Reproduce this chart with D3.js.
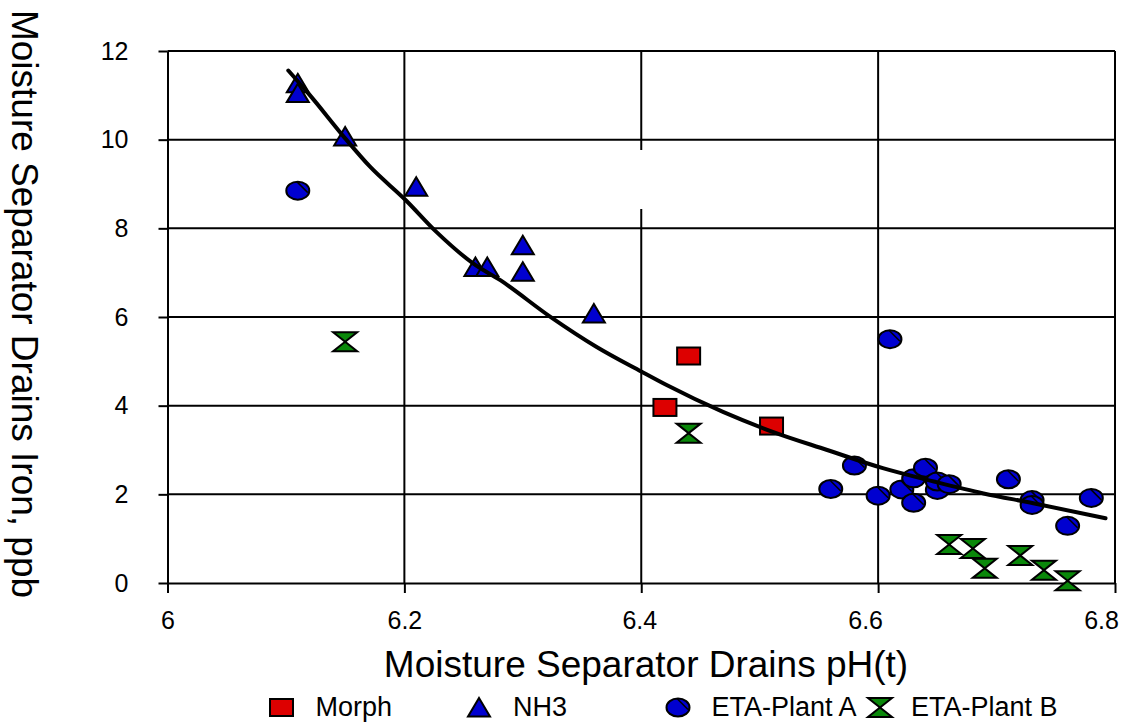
<!DOCTYPE html>
<html><head><meta charset="utf-8">
<script src="https://cdn.jsdelivr.net/npm/d3@7"></script>
<style>
body{margin:0;background:#fff}
text{font-family:Arial,"Liberation Sans",sans-serif;fill:#000}
</style>
</head><body>
<svg id="c" width="1127" height="723"></svg>
<script>
// ---- data ----
const xTicks = [6, 6.2, 6.4, 6.6, 6.8];
const yTicks = [0, 2, 4, 6, 8, 10, 12];
const seriesNames = ["Morph", "NH3", "ETA-Plant A", "ETA-Plant B"];
const morphX = [6.44, 6.42, 6.51];
const morphY = [5.12, 3.96, 3.54];
const nh3X = [6.11, 6.11, 6.15, 6.21, 6.26, 6.27, 6.30, 6.30, 6.36];
const nh3Y = [11.27, 11.05, 10.07, 8.94, 7.13, 7.13, 7.62, 7.02, 6.08];
const plantAX = [6.11, 6.61, 6.56, 6.58, 6.60, 6.62, 6.63, 6.63, 6.64, 6.65, 6.65, 6.66, 6.71, 6.73, 6.73, 6.76, 6.78];
const plantAY = [8.85, 5.50, 2.12, 2.65, 1.97, 2.11, 1.81, 2.36, 2.60, 2.10, 2.29, 2.23, 2.34, 1.87, 1.76, 1.29, 1.92];
const plantBX = [6.15, 6.44, 6.66, 6.68, 6.69, 6.72, 6.74, 6.76];
const plantBY = [5.44, 3.38, 0.87, 0.78, 0.33, 0.62, 0.29, 0.05];
const trendX = [6.102, 6.120, 6.150, 6.171, 6.201, 6.227, 6.258, 6.281, 6.323, 6.362, 6.400, 6.421, 6.469, 6.511, 6.557, 6.604, 6.647, 6.689, 6.731, 6.792];
const trendY = [11.56, 11.01, 10.03, 9.39, 8.64, 7.92, 7.21, 6.83, 6.01, 5.33, 4.77, 4.47, 3.86, 3.41, 3.00, 2.59, 2.29, 2.02, 1.80, 1.46];

// ---- layout ----
const svg = d3.select("#c");
const X0 = 167.5, X1 = 1115, Y0 = 583, Y1 = 51;
const x = d3.scaleLinear().domain([6, 6.8]).range([X0, X1]);
const y = d3.scaleLinear().domain([0, 12]).range([Y0, Y1]);
const labelNudge = {"6": 0, "6.2": 0, "6.4": -2, "6.6": -13, "6.8": -14};

// gridlines
const g = svg.append("g").attr("stroke", "#000").attr("stroke-width", 2);
g.selectAll(".hg").data(yTicks.filter(d => d > 0)).join("line")
  .attr("x1", X0).attr("x2", X1).attr("y1", d => y(d)).attr("y2", d => y(d));
g.selectAll(".vg").data(xTicks.filter(d => d > 6)).join("line")
  .attr("y1", Y1).attr("y2", Y0).attr("x1", d => x(d)).attr("x2", d => x(d));
// small gap in the 6.4 gridline, as in the reference
svg.append("rect").attr("x", x(6.4) - 2.5).attr("y", 150).attr("width", 5).attr("height", 59).attr("fill", "#fff");

// axes
const yAxis = d3.axisLeft(y).tickValues(yTicks).tickSize(9).tickSizeOuter(0).tickPadding(30).tickFormat(d3.format("d"));
const ya = svg.append("g").attr("transform", `translate(${X0},0)`).call(yAxis);
const xAxis = d3.axisBottom(x).tickValues(xTicks).tickSize(10).tickSizeOuter(0).tickPadding(18).tickFormat(d => String(d));
const xa = svg.append("g").attr("transform", `translate(0,${Y0})`).call(xAxis);
[ya, xa].forEach(a => {
  a.select(".domain").attr("stroke", "#000").attr("stroke-width", 2);
  a.selectAll(".tick line").attr("stroke", "#000").attr("stroke-width", 2);
  a.selectAll(".tick text").attr("font-size", 25).attr("font-family", "Arial, 'Liberation Sans', sans-serif").attr("fill", "#000");
});
xa.selectAll(".tick text").attr("dx", d => labelNudge[String(d)] || 0);

// axis titles
svg.append("text").attr("x", 646).attr("y", 677).attr("text-anchor", "middle").attr("font-size", 37)
  .text("Moisture Separator Drains pH(t)");
svg.append("text").attr("transform", "translate(12,304) rotate(90)").attr("text-anchor", "middle").attr("font-size", 37)
  .text("Moisture Separator Drains Iron, ppb");

// ---- marker shapes ----
const colors = ["#dd0000", "#0000d0", "#0000d0", "#0a880a"];
function drawMarker(sel, type, cx, cy) {
  let el;
  if (type === 0) {
    el = sel.append("rect").attr("x", cx - 11.5).attr("y", cy - 8.5).attr("width", 23).attr("height", 17);
  } else if (type === 1) {
    el = sel.append("path").attr("d", `M${cx},${cy - 9.5}L${cx + 11},${cy + 9}L${cx - 11},${cy + 9}Z`);
  } else if (type === 2) {
    el = sel.append("ellipse").attr("cx", cx).attr("cy", cy).attr("rx", 11.5).attr("ry", 9);
  } else {
    el = sel.append("path").attr("d", `M${cx - 12},${cy - 9.5}L${cx + 12},${cy - 9.5}L${cx - 12},${cy + 9.5}L${cx + 12},${cy + 9.5}Z`);
  }
  el.attr("fill", colors[type]).attr("stroke", "#000").attr("stroke-width", 2).attr("stroke-linejoin", "miter");
  if (type === 2) {
    sel.append("line").attr("x1", cx - 1).attr("y1", cy - 9).attr("x2", cx + 10).attr("y2", cy + 2)
      .attr("stroke", "#000").attr("stroke-width", 1.5);
  }
}

const series = [
  [morphX, morphY], [nh3X, nh3Y], [plantAX, plantAY], [plantBX, plantBY]
];
const mg = svg.append("g");
series.forEach(([xs, ys], i) => {
  xs.forEach((v, j) => drawMarker(mg, i, x(v), y(ys[j])));
});

// trendline
const trend = trendX.map((v, i) => [v, trendY[i]]);
svg.append("path").datum(trend)
  .attr("d", d3.line().x(d => x(d[0])).y(d => y(d[1])).curve(d3.curveMonotoneX))
  .attr("fill", "none").attr("stroke", "#000").attr("stroke-width", 4).attr("stroke-linecap", "round");

// legend
const legMarkX = [281.5, 479, 678, 880];
const legTextX = [315.5, 513, 711.5, 911];
const lg = svg.append("g");
seriesNames.forEach((n, i) => {
  drawMarker(lg, i, legMarkX[i], 707.5);
  lg.append("text").attr("x", legTextX[i]).attr("y", 716).attr("font-size", 27).text(n);
});
</script>
</body></html>
